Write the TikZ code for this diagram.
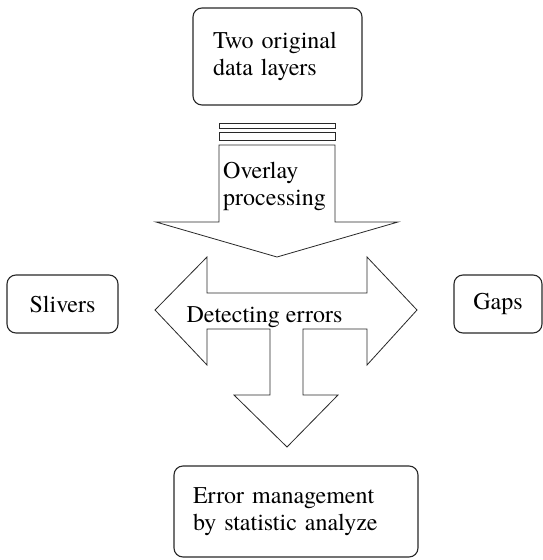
\documentclass[tikz,border=0pt]{standalone}
\usepackage{fontspec}
\setmainfont{TeX Gyre Termes}
\definecolor{lineink}{RGB}{40,40,40}

\begin{document}
\begin{tikzpicture}[
  x=1pt,y=-1pt,
  every node/.style={font=\fontsize{24}{27}\selectfont,text=black},
  box/.style={draw=lineink,line width=1.1pt,rounded corners=9pt,inner sep=0pt},
  block/.style={draw=lineink,line width=.8pt,line join=miter,fill=white}
]
\path[use as bounding box] (0,0) rectangle (543,560);
\fill[white] (0,0) rectangle (543,560);

% Input box at the top.
\node[box,minimum width=169pt,minimum height=97pt,text width=129pt,align=left]
  (layers) at (277.5,56.5) {Two original\\data layers};

% Overlay block arrow with its two stacked bars.
\draw[block] (219,123) rectangle (335,128);
\draw[block] (219,132) rectangle (335,140);
\draw[block] (219,145)--(335,145)--(335,222)--(398,222)--(277,257)
  --(156,222)--(219,222)--cycle;
\node[align=left,anchor=west,inner sep=0pt] (overlay) at (223,186)
  {Overlay\\processing};

% Three-way arrow: left, right and down.
\draw[block] (155,310)--(207,257)--(207,293)--(367,293)--(367,257)--(417,310)
  --(367,365)--(367,329)--(303,329)--(303,395)--(338,395)--(287,447)
  --(234,395)--(270,395)--(270,329)--(207,329)--(207,365)--cycle;
\node[anchor=base,inner sep=0pt] (detect) at (264.5,322) {Detecting errors};

% Outcome boxes.
\node[box,minimum width=111pt,minimum height=58pt] (slivers) at (62.5,304) {Slivers};
\node[box,minimum width=88pt,minimum height=58pt] (gaps) at (498,304) {Gaps};
\node[box,minimum width=244pt,minimum height=91pt,text width=206pt,align=left]
  (manage) at (296,511.5) {Error management\\by statistic analyze};
\end{tikzpicture}
\end{document}
